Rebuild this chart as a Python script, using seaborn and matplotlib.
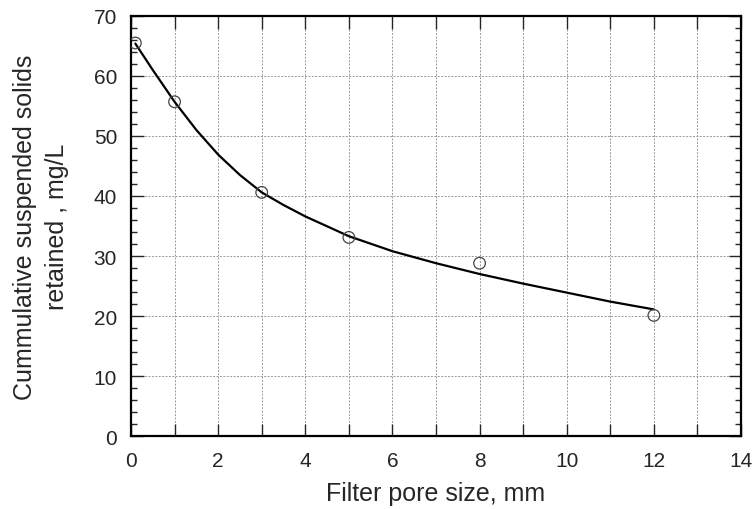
import matplotlib
matplotlib.use("Agg")
import matplotlib.pyplot as plt
import seaborn as sns
import pandas as pd
from matplotlib.ticker import MultipleLocator

# measured data points
pore_size = [0.1, 1, 3, 5, 8, 12]
ss_retained = [65.5, 55.7, 40.6, 33.1, 28.8, 20.1]

# fitted curve
curve_x = [0.1, 0.5, 1, 1.5, 2, 2.5, 3, 3.5, 4, 5, 6, 7, 8, 9, 10, 11, 12]
curve_y = [65.4, 61.0, 55.7, 51.0, 46.9, 43.5, 40.6, 38.5, 36.6, 33.3, 30.8,
           28.8, 27.0, 25.4, 23.9, 22.4, 21.1]

x_ticks = [0, 2, 4, 6, 8, 10, 12, 14]
y_ticks = [0, 10, 20, 30, 40, 50, 60, 70]

sns.set_style("white")
plt.rcParams['font.family'] = ['Liberation Sans', 'DejaVu Sans']

fig = plt.figure(figsize=(7.52, 5.10), dpi=100)
ax = fig.add_axes([0.1742, 0.1431, 0.8112, 0.8236])

pts = pd.DataFrame({"x": pore_size, "y": ss_retained})
crv = pd.DataFrame({"x": curve_x, "y": curve_y})

sns.lineplot(data=crv, x="x", y="y", ax=ax, color="black", linewidth=1.6,
             sort=True, estimator=None, zorder=3)
sns.scatterplot(data=pts, x="x", y="y", ax=ax, marker="o", s=70,
                facecolor="none", edgecolor="#444444", linewidth=0.9, zorder=4)

ax.set_xlim(0, 14)
ax.set_ylim(0, 70)
ax.set_xticks(x_ticks)
ax.set_yticks(y_ticks)
ax.xaxis.set_minor_locator(MultipleLocator(1))
ax.yaxis.set_minor_locator(MultipleLocator(2))

ax.grid(True, which="major", axis="both", color="#999999", linestyle=(0, (2, 1.5)), linewidth=0.7)
ax.grid(True, which="minor", axis="x", color="#999999", linestyle=(0, (2, 1.5)), linewidth=0.7)

ax.tick_params(axis="x", which="both", direction="in", top=True, bottom=True,
               length=9, width=1.0, labelsize=15, pad=11)
ax.tick_params(axis="y", which="major", direction="in", left=True, right=True,
               length=9, width=1.0, labelsize=15, pad=10)
ax.tick_params(axis="y", which="minor", direction="in", left=True, right=True,
               length=4.5, width=1.0)

for s in ax.spines.values():
    s.set_visible(True)
    s.set_linewidth(1.6)
    s.set_color("black")

ax.set_xlabel("Filter pore size, mm", fontsize=18, labelpad=8)
ax.set_ylabel("Cummulative suspended solids\nretained , mg/L", fontsize=18,
              labelpad=18, linespacing=1.4)

fig.savefig("out.png", dpi=100)
